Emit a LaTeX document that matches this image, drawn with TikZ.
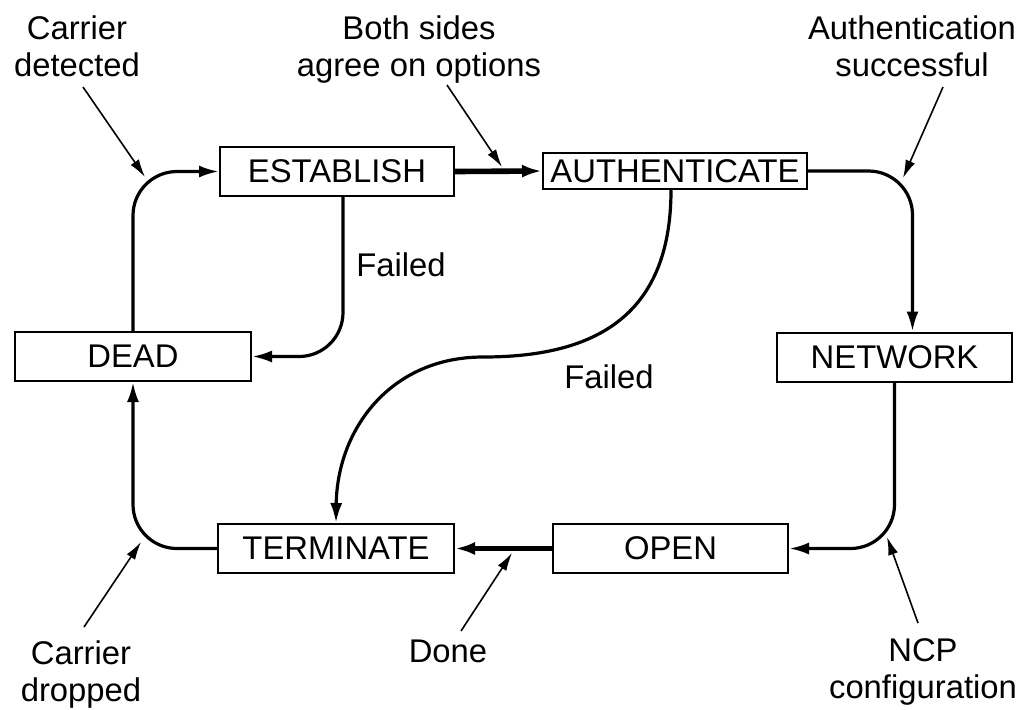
\documentclass[tikz,border=0pt]{standalone}
\usepackage{fontspec}
\setmainfont{Liberation Sans}
\usetikzlibrary{arrows.meta}

\begin{document}
\begin{tikzpicture}[x=0.5pt,y=-0.5pt,
    every node/.style={font=\fontsize{16.4}{18.8}\selectfont},
    state/.style={draw=black,line width=1pt,inner sep=0pt,minimum height=24.5pt},
    lbl/.style={inner sep=0pt,anchor=north,align=center},
    flow/.style={line width=1.6pt,-{Latex[length=10pt,width=6pt]}},
    boldflow/.style={line width=2.8pt,-{Latex[length=10pt,width=6.5pt]}},
    event/.style={line width=0.8pt,-{Latex[length=9pt,width=5pt]}}]
    \useasboundingbox (0,0) rectangle (1022,709);
    % states
    \node [state,minimum width=117pt] (establish) at (337,171.5) {ESTABLISH};
    \node [state,minimum width=132pt,minimum height=18pt] (authenticate) at (675,171) {AUTHENTICATE};
    \node [state,minimum width=118pt] (dead) at (133,356.5) {DEAD};
    \node [state,minimum width=117.5pt] (network) at (894.5,357) {NETWORK};
    \node [state,minimum width=118pt] (terminate) at (336,548.5) {TERMINATE};
    \node [state,minimum width=117.5pt] (open) at (670.5,548.5) {OPEN};
    % event labels
    \node [lbl] (detected) at (77,15) {Carrier\\detected};
    \node [lbl] (agree) at (419,15) {Both sides\\agree on options};
    \node [lbl] (success) at (912,15) {Authentication\\successful};
    \node [lbl] (dropped) at (81,640) {Carrier\\dropped};
    \node [lbl] (done) at (448,640) {Done};
    \node [lbl] (ncp) at (923,638) {NCP\\configuration};
    \node [inner sep=0pt] (failA) at (401,265) {Failed};
    \node [inner sep=0pt] (failB) at (609,377) {Failed};
    % transitions
    \draw [flow,rounded corners=22pt] (dead.north) |- (establish.west);
    \draw [boldflow] (establish.east) -- (authenticate.west);
    \draw [flow,rounded corners=22pt] (authenticate.east) -| ([xshift=9pt]network.north);
    \draw [flow,rounded corners=22pt] ([xshift=3pt]establish.south) |- (dead.east);
    \coordinate (fmid) at (483,357);
    \draw [flow] ([xshift=-2pt]authenticate.south) .. controls (671,320) and (590,357) .. (fmid)
        .. controls (390,357) and (337,430) .. (terminate.north);
    \draw [flow,rounded corners=22pt] (network.south) |- (open.east);
    \draw [boldflow] (open.west) -- (terminate.east);
    \draw [flow,rounded corners=22pt] (terminate.west) -| (dead.south);
    % event pointers
    \coordinate (detectedTail) at (83,87);
    \coordinate (detectedTip) at (145,177);
    \coordinate (agreeTail) at (447,85);
    \coordinate (agreeTip) at (502,167);
    \coordinate (successTail) at (943,87);
    \coordinate (successTip) at (903,178);
    \coordinate (droppedTail) at (84,627);
    \coordinate (droppedTip) at (141,542);
    \coordinate (doneTail) at (461,631);
    \coordinate (doneTip) at (512,553);
    \coordinate (ncpTail) at (918,623);
    \coordinate (ncpTip) at (887,537);
    \draw [event] (detectedTail) -- (detectedTip);
    \draw [event] (agreeTail) -- (agreeTip);
    \draw [event] (successTail) -- (successTip);
    \draw [event] (droppedTail) -- (droppedTip);
    \draw [event] (doneTail) -- (doneTip);
    \draw [event] (ncpTail) -- (ncpTip);
\end{tikzpicture}
\end{document}
